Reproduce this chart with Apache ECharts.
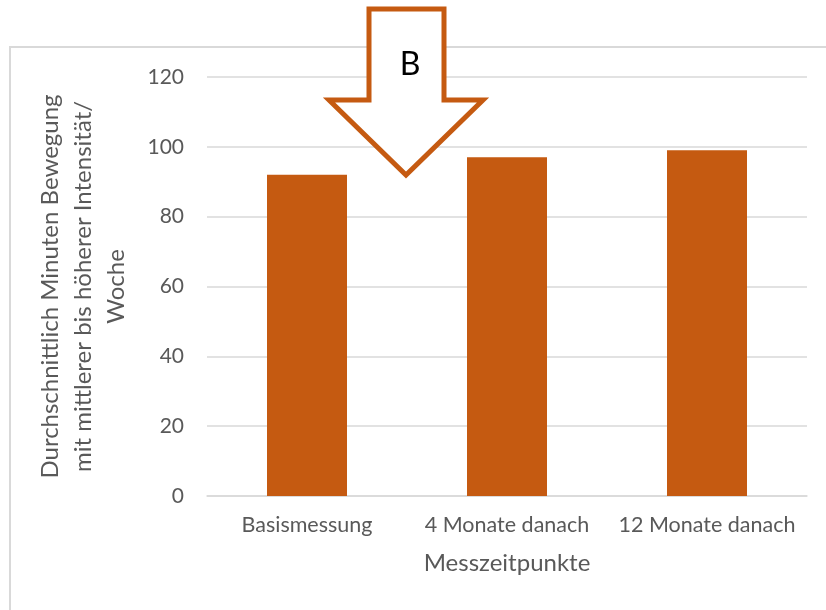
<!DOCTYPE html>
<html>
<head>
<meta charset="utf-8">
<script src="https://cdn.jsdelivr.net/npm/echarts@6/dist/echarts.min.js"></script>
<style>
  html, body { margin: 0; padding: 0; background: #fff; }
  #chart { width: 826px; height: 610px; }
</style>
</head>
<body>
<div id="chart"></div>
<script>
// Measurement points and average weekly minutes of moderate-to-vigorous activity
const categories = ['Basismessung', '4 Monate danach', '12 Monate danach'];
const minutesPerWeek = [92, 97, 99];
const yTicks = { min: 0, max: 120, interval: 20 };
const yAxisTitle = 'Durchschnittlich Minuten Bewegung\nmit mittlerer bis höherer Intensität/\nWoche';
const xAxisTitle = 'Messzeitpunkte';
const calloutLabel = 'B';

const FONT = 'Lato, "Open Sans", sans-serif';
const GREY_TEXT = '#595959';
const GRID_GREY = '#d9d9d9';
const BAR_COLOR = '#C55A11';

const chart = echarts.init(document.getElementById('chart'), null, { renderer: 'canvas' });

chart.setOption({
  backgroundColor: '#fff',
  animation: false,
  grid: { left: 207, right: 19, top: 77, bottom: 114 },
  xAxis: {
    type: 'category',
    data: categories,
    name: xAxisTitle,
    nameLocation: 'middle',
    nameGap: 55,
    nameTextStyle: { color: GREY_TEXT, fontFamily: FONT, fontSize: 24 },
    axisLine: { show: true, lineStyle: { color: GRID_GREY, width: 1.5 } },
    axisTick: { show: false },
    axisLabel: {
      color: GREY_TEXT, fontFamily: FONT, fontSize: 21.5, margin: 18,
      interval: 0, hideOverlap: false
    }
  },
  yAxis: {
    type: 'value',
    min: yTicks.min,
    max: yTicks.max,
    interval: yTicks.interval,
    name: yAxisTitle,
    nameLocation: 'middle',
    nameRotate: 90,
    nameGap: 74,
    nameTextStyle: { color: GREY_TEXT, fontFamily: FONT, fontSize: 24, lineHeight: 33, align: 'center' },
    axisLine: { show: false },
    axisTick: { show: false },
    axisLabel: { color: GREY_TEXT, fontFamily: FONT, fontSize: 21, margin: 23 },
    splitLine: { lineStyle: { color: GRID_GREY, width: 1.5 } }
  },
  series: [{
    type: 'bar',
    data: minutesPerWeek,
    barWidth: '40%',
    itemStyle: { color: BAR_COLOR }
  }],
  graphic: [
    // chart area frame (top and left edges visible)
    {
      type: 'rect',
      z: 0,
      shape: { x: 10, y: 47, width: 900, height: 700 },
      style: { fill: 'none', stroke: GRID_GREY, lineWidth: 2 },
      silent: true
    },
    // downward callout arrow
    {
      type: 'polygon',
      z: 100,
      shape: {
        points: [
          [369, 9], [444, 9], [444, 100], [483, 100],
          [406, 175], [329, 100], [369, 100]
        ]
      },
      style: { fill: '#fff', stroke: BAR_COLOR, lineWidth: 5, lineJoin: 'miter' },
      silent: true
    },
    {
      type: 'text',
      z: 101,
      x: 410,
      y: 65,
      style: {
        text: calloutLabel,
        fill: '#000',
        font: '32px ' + FONT,
        align: 'center',
        verticalAlign: 'middle'
      },
      silent: true
    }
  ]
});
</script>
</body>
</html>
